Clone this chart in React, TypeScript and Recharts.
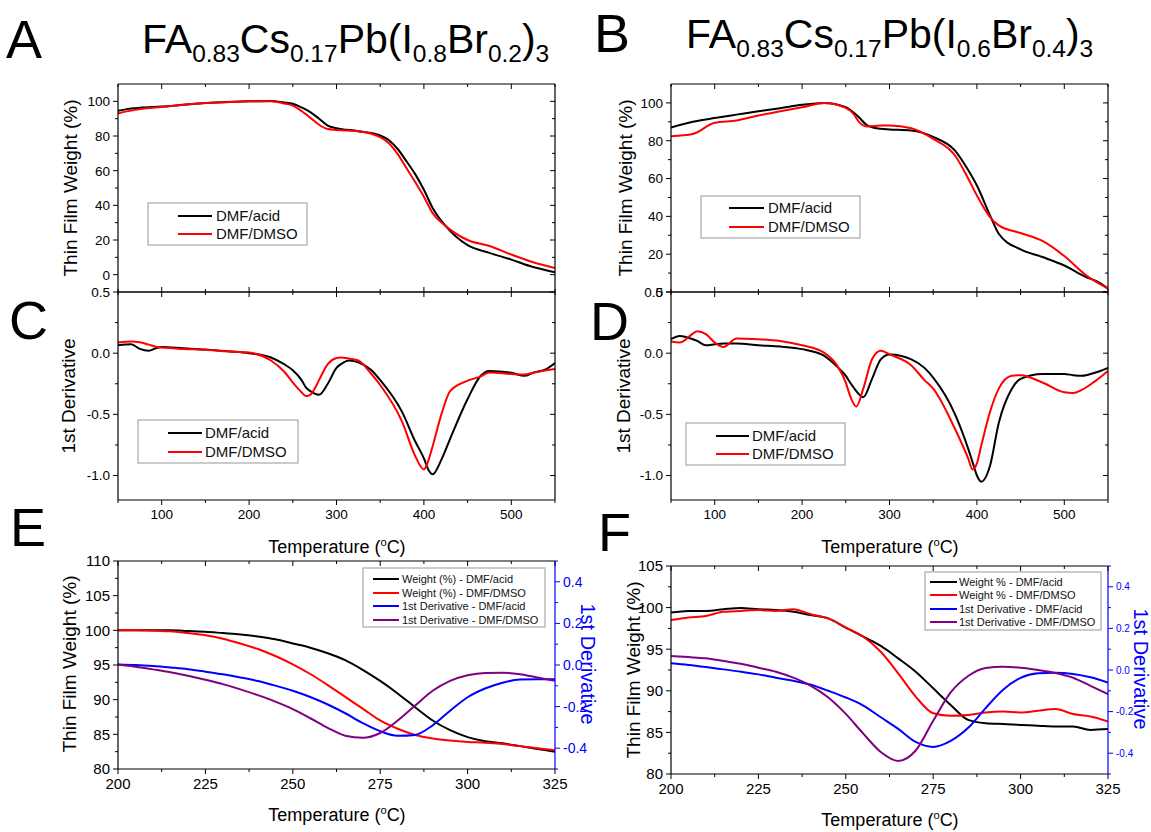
import React from "react";
import { LineChart, Line, XAxis, YAxis } from "recharts";

const FONT = '"Liberation Sans", Arial, Helvetica, sans-serif';

// A – weight, FA0.83Cs0.17Pb(I0.8Br0.2)3
const tempA = [50, 60, 75, 100, 125, 150, 175, 200, 225, 240, 250, 260, 270, 280, 290, 300, 325, 350, 360, 370, 380, 390, 400, 410, 425, 450, 475, 500, 525, 550];
const weightAcidA = [94.5, 95.5, 96.3, 97, 98, 99, 99.6, 100, 100.2, 99.3, 98.6, 96.5, 93.8, 90, 86, 84.5, 82.8, 80.3, 77.5, 72.5, 65.5, 58, 49, 38.5, 28, 17, 12.6, 8.7, 4.4, 1.4];
const weightDmsoA = [93, 94.2, 95.5, 96.8, 98, 99, 99.5, 100, 100, 98.8, 97.5, 94.4, 90.5, 86.5, 84, 83.5, 82.8, 79.3, 75.8, 69.5, 61.5, 53.5, 45, 35.5, 28, 20, 16.5, 11.6, 7.2, 3.9];

// B – weight, FA0.83Cs0.17Pb(I0.6Br0.4)3
const tempB = [50, 75, 100, 125, 150, 175, 200, 225, 250, 260, 265, 275, 290, 300, 325, 350, 375, 390, 400, 415, 425, 450, 475, 500, 525, 540, 550];
const weightAcidB = [87, 90, 92, 93.8, 95.6, 97.2, 99, 100, 97.7, 94.5, 92.4, 88, 86.3, 86, 85.4, 82, 74.8, 64.5, 56.3, 40.5, 30.8, 22.5, 18.5, 14, 7.9, 5, 1.8];
const weightDmsoB = [82.4, 83.6, 89.5, 90.7, 93.3, 95.6, 97.7, 100, 97.4, 93.5, 90, 87.5, 88, 88, 86.6, 81, 72.2, 60, 51, 39.6, 35.2, 31.2, 27, 19, 8.8, 4.4, 1.8];

// C – 1st derivative, (I0.8Br0.2)
const tempC = [50, 65, 75, 85, 95, 100, 125, 150, 175, 200, 225, 240, 250, 260, 265, 270, 275, 280, 290, 300, 305, 315, 325, 340, 350, 375, 390, 400, 405, 410, 420, 430, 450, 465, 475, 500, 515, 525, 540, 550];
const derivAcidC = [0.065, 0.073, 0.035, 0.02, 0.045, 0.05, 0.04, 0.03, 0.015, 0.0, -0.035, -0.09, -0.14, -0.22, -0.28, -0.31, -0.33, -0.34, -0.25, -0.12, -0.09, -0.06, -0.075, -0.14, -0.22, -0.48, -0.72, -0.86, -0.95, -0.99, -0.87, -0.7, -0.375, -0.185, -0.145, -0.16, -0.185, -0.16, -0.13, -0.08];
const derivDmsoC = [0.087, 0.095, 0.09, 0.07, 0.05, 0.046, 0.035, 0.027, 0.015, 0.005, -0.06, -0.15, -0.24, -0.32, -0.35, -0.34, -0.29, -0.22, -0.09, -0.04, -0.035, -0.045, -0.06, -0.17, -0.26, -0.56, -0.84, -0.95, -0.88, -0.76, -0.5, -0.31, -0.225, -0.19, -0.157, -0.17, -0.175, -0.16, -0.14, -0.13];

// D – 1st derivative, (I0.6Br0.4)
const tempD = [50, 60, 75, 80, 90, 100, 110, 125, 150, 175, 200, 225, 240, 250, 255, 262, 270, 280, 290, 300, 325, 340, 350, 375, 390, 395, 400, 405, 415, 425, 440, 450, 475, 500, 510, 520, 535, 550];
const derivAcidD = [0.114, 0.14, 0.114, 0.1, 0.065, 0.073, 0.08, 0.08, 0.065, 0.054, 0.033, -0.02, -0.11, -0.185, -0.24, -0.31, -0.36, -0.21, -0.05, -0.01, -0.05, -0.12, -0.2, -0.5, -0.78, -0.89, -1.0, -1.05, -0.92, -0.57, -0.29, -0.21, -0.17, -0.17, -0.18, -0.185, -0.16, -0.12];
const derivDmsoD = [0.095, 0.087, 0.16, 0.18, 0.155, 0.087, 0.05, 0.12, 0.114, 0.1, 0.065, 0.005, -0.1, -0.24, -0.35, -0.435, -0.29, -0.05, 0.02, -0.01, -0.1, -0.22, -0.29, -0.62, -0.86, -0.95, -0.9, -0.755, -0.48, -0.29, -0.185, -0.18, -0.24, -0.32, -0.325, -0.3, -0.23, -0.145];

// E – zoom 200-325 °C, (I0.8Br0.2)
const tempE = [200, 205, 210, 215, 220, 225, 230, 235, 240, 245, 250, 255, 260, 265, 270, 275, 280, 285, 290, 295, 300, 305, 310, 315, 320, 325];
const weightAcidE = [100, 100, 100, 100, 99.9, 99.8, 99.6, 99.4, 99.1, 98.7, 98.1, 97.5, 96.7, 95.7, 94.3, 92.7, 90.9, 88.9, 87.0, 85.6, 84.6, 84.0, 83.7, 83.3, 82.9, 82.5];
const weightDmsoE = [100, 100, 99.95, 99.85, 99.6, 99.3, 98.8, 98.1, 97.3, 96.3, 95.1, 93.7, 92.1, 90.4, 88.7, 87.0, 85.8, 84.9, 84.4, 84.1, 83.9, 83.8, 83.6, 83.3, 83.0, 82.7];
const derivAcidE = [0.003, 0.0, -0.005, -0.012, -0.02, -0.032, -0.045, -0.06, -0.077, -0.099, -0.124, -0.154, -0.19, -0.232, -0.279, -0.318, -0.34, -0.336, -0.29, -0.22, -0.155, -0.113, -0.085, -0.07, -0.068, -0.068];
const derivDmsoE = [0.003, -0.008, -0.021, -0.035, -0.052, -0.071, -0.092, -0.117, -0.145, -0.176, -0.212, -0.256, -0.302, -0.34, -0.35, -0.327, -0.267, -0.195, -0.124, -0.076, -0.049, -0.038, -0.037, -0.044, -0.06, -0.076];

// F – zoom 200-325 °C, (I0.6Br0.4)
const tempF = [200, 205, 210, 215, 220, 225, 230, 235, 240, 245, 250, 255, 260, 265, 270, 275, 280, 285, 290, 295, 300, 305, 310, 315, 320, 325];
const weightAcidF = [99.4, 99.6, 99.6, 99.8, 99.95, 99.8, 99.7, 99.5, 99.1, 98.7, 97.6, 96.5, 95.4, 93.9, 92.3, 90.3, 88.3, 86.5, 86.1, 86.0, 85.9, 85.8, 85.7, 85.7, 85.3, 85.4];
const weightDmsoF = [98.5, 98.8, 99.0, 99.5, 99.6, 99.7, 99.6, 99.8, 99.2, 98.7, 97.6, 96.5, 94.7, 92.1, 89.3, 87.3, 87.0, 87.1, 87.4, 87.5, 87.4, 87.6, 87.8, 87.2, 86.9, 86.3];
const derivAcidF = [0.032, 0.024, 0.014, 0.003, -0.008, -0.021, -0.037, -0.052, -0.071, -0.1, -0.132, -0.171, -0.227, -0.283, -0.346, -0.37, -0.341, -0.278, -0.183, -0.095, -0.038, -0.016, -0.013, -0.019, -0.035, -0.06];
const derivDmsoF = [0.067, 0.062, 0.056, 0.043, 0.03, 0.011, -0.008, -0.037, -0.076, -0.132, -0.211, -0.306, -0.394, -0.437, -0.387, -0.244, -0.108, -0.029, 0.01, 0.016, 0.011, 0.0, -0.014, -0.037, -0.076, -0.116];

// tick lists
const ticksWide = [50, 100, 150, 200, 250, 300, 350, 400, 450, 500, 550];
const majorWide = [100, 200, 300, 400, 500];
const ticksWeightA = [0, 10, 20, 30, 40, 50, 60, 70, 80, 90, 100];
const ticksWeightB = [0, 10, 20, 30, 40, 50, 60, 70, 80, 90, 100];
const majorWeight = [0, 20, 40, 60, 80, 100];
const ticksDeriv = [-1.0, -0.75, -0.5, -0.25, 0, 0.25, 0.5];
const majorDeriv = [-1.0, -0.5, 0, 0.5];
const ticksZoom = [200, 212.5, 225, 237.5, 250, 262.5, 275, 287.5, 300, 312.5, 325];
const majorZoom = [200, 225, 250, 275, 300, 325];
const ticksWeightE = [80, 82.5, 85, 87.5, 90, 92.5, 95, 97.5, 100, 102.5, 105, 107.5, 110];
const majorWeightE = [80, 85, 90, 95, 100, 105, 110];
const ticksWeightF = [80, 82.5, 85, 87.5, 90, 92.5, 95, 97.5, 100, 102.5, 105];
const majorWeightF = [80, 85, 90, 95, 100, 105];
const ticksDerivZoom = [-0.5, -0.4, -0.3, -0.2, -0.1, 0, 0.1, 0.2, 0.3, 0.4, 0.5];
const majorDerivZoom = [-0.4, -0.2, 0, 0.2, 0.4];

const zip = (t: number[], cols: Record<string, number[]>) =>
  t.map((v, i) => {
    const r: Record<string, number> = { t: v };
    for (const k of Object.keys(cols)) r[k] = cols[k][i];
    return r;
  });

type Ax = {
  domain: [number, number];
  ticks: number[];
  major: number[];
  dec?: number;
  font?: number;
  color?: string;
  labels?: boolean;
  inward?: boolean;
};

function makeTick(ax: Ax) {
  return (p: any) => {
    const { x, y, payload, orientation } = p;
    const v = Number(payload.value);
    const isMajor = ax.major.some((m) => Math.abs(m - v) < 1e-9);
    const len = isMajor ? 5 : 3;
    const s = ax.inward ? -1 : 1;
    const color = ax.color ?? "#000";
    let x2 = x;
    let y2 = y;
    if (orientation === "left") x2 = x - s * len;
    else if (orientation === "right") x2 = x + s * len;
    else if (orientation === "top") y2 = y - s * len;
    else y2 = y + s * len;
    let label = null;
    if (isMajor && ax.labels) {
      const txt = v.toFixed(ax.dec ?? 0);
      const c = { fontSize: ax.font ?? 13, fill: color, fontFamily: FONT };
      if (orientation === "left")
        label = <text x={x - 8} y={y} dy="0.36em" textAnchor="end" {...c}>{txt}</text>;
      else if (orientation === "right")
        label = <text x={x + 8} y={y} dy="0.36em" textAnchor="start" {...c}>{txt}</text>;
      else
        label = <text x={x} y={y + 8} dy="0.78em" textAnchor="middle" {...c}>{txt}</text>;
    }
    return (
      <g>
        <line x1={x} y1={y} x2={x2} y2={y2} stroke={color} strokeWidth={1} />
        {label}
      </g>
    );
  };
}

type Series = { key: string; color: string; axis: "l" | "r"; name: string };

const ML = 60, MR = 60, MT = 12, MB = 36, PW = 437, PH = 208;

function Panel(props: {
  x: number;
  y: number;
  rows: Record<string, number>[];
  lines: Series[];
  bottom: Ax;
  top: Ax;
  left: Ax;
  right: Ax;
}) {
  const { x, y, rows, lines, bottom, top, left, right } = props;
  const axisStyle = (c?: string) => ({ stroke: c ?? "#000", strokeWidth: 1.2 });
  // axes are 1px thick so the plot area starts exactly at the margin + 1
  return (
    <div style={{ position: "absolute", left: x - ML, top: y - MT }}>
      <LineChart width={PW + ML + MR} height={PH + MT + MB} data={rows} margin={{ top: MT - 1, right: MR - 1, bottom: MB - 1, left: ML - 1 }}>
        <XAxis xAxisId="b" dataKey="t" type="number" domain={bottom.domain} ticks={bottom.ticks} interval={0} allowDataOverflow height={1} tickSize={0} tickMargin={0} tickLine={false} axisLine={axisStyle()} tick={makeTick(bottom)} />
        <XAxis xAxisId="t" orientation="top" dataKey="t" type="number" domain={top.domain} ticks={top.ticks} interval={0} allowDataOverflow height={1} tickSize={0} tickMargin={0} tickLine={false} axisLine={axisStyle()} tick={makeTick(top)} />
        <YAxis yAxisId="l" type="number" domain={left.domain} ticks={left.ticks} interval={0} allowDataOverflow width={1} tickSize={0} tickMargin={0} tickLine={false} axisLine={axisStyle()} tick={makeTick(left)} />
        <YAxis yAxisId="r" orientation="right" type="number" domain={right.domain} ticks={right.ticks} interval={0} allowDataOverflow width={1} tickSize={0} tickMargin={0} tickLine={false} axisLine={axisStyle(right.color)} tick={makeTick(right)} />
        {lines.map((l) => (
          <Line key={l.key} xAxisId="b" yAxisId={l.axis} dataKey={l.key} name={l.name} type="monotone" stroke={l.color} strokeWidth={2} dot={false} isAnimationActive={false} />
        ))}
      </LineChart>
    </div>
  );
}

const pairLines: Series[] = [
  { key: "acid", color: "#000000", axis: "l", name: "DMF/acid" },
  { key: "dmso", color: "#ff0000", axis: "l", name: "DMF/DMSO" },
];
const zoomLinesE: Series[] = [
  { key: "wAcid", color: "#000000", axis: "l", name: "Weight (%) - DMF/acid" },
  { key: "wDmso", color: "#ff0000", axis: "l", name: "Weight (%) - DMF/DMSO" },
  { key: "dAcid", color: "#0000ff", axis: "r", name: "1st Derivative - DMF/acid" },
  { key: "dDmso", color: "#800080", axis: "r", name: "1st Derivative - DMF/DMSO" },
];
const zoomLinesF: Series[] = zoomLinesE.map((s) => ({ ...s, name: s.name.replace("Weight (%)", "Weight %") }));

const rowsA = zip(tempA, { acid: weightAcidA, dmso: weightDmsoA });
const rowsB = zip(tempB, { acid: weightAcidB, dmso: weightDmsoB });
const rowsC = zip(tempC, { acid: derivAcidC, dmso: derivDmsoC });
const rowsD = zip(tempD, { acid: derivAcidD, dmso: derivDmsoD });
const rowsE = zip(tempE, { wAcid: weightAcidE, wDmso: weightDmsoE, dAcid: derivAcidE, dDmso: derivDmsoE });
const rowsF = zip(tempF, { wAcid: weightAcidF, wDmso: weightDmsoF, dAcid: derivAcidF, dDmso: derivDmsoF });

const wideX: Ax = { domain: [50, 550], ticks: ticksWide, major: majorWide, labels: true, font: 13.5 };
const wideTop: Ax = { domain: [50, 550], ticks: ticksWide, major: majorWide, inward: true };
const weightAxA: Ax = { domain: [-10, 110], ticks: ticksWeightA, major: majorWeight, labels: true, font: 13.5 };
const weightAxB: Ax = { domain: [0, 110], ticks: ticksWeightB, major: majorWeight, labels: true, font: 13.5 };
const derivAx: Ax = { domain: [-1.2, 0.5], ticks: ticksDeriv, major: majorDeriv, labels: true, dec: 1, font: 13.5 };
const mirror = (a: Ax): Ax => ({ ...a, labels: false, inward: true });
const zoomX: Ax = { domain: [200, 325], ticks: ticksZoom, major: majorZoom, labels: true, font: 15 };
const zoomTop: Ax = { ...zoomX, labels: false, inward: true };

function Formula({ x, y, parts }: { x: number; y: number; parts: [string, number][] }) {
  let prev = 0;
  return (
    <text x={x} y={y} fontSize={41} fill="#000">
      {parts.map(([t, sub], i) => {
        const dy = (sub - prev) * 9;
        prev = sub;
        return (
          <tspan key={i} dy={dy} fontSize={sub ? 24.5 : 41}>
            {t}
          </tspan>
        );
      })}
    </text>
  );
}

function TempLabel({ cx, y, size }: { cx: number; y: number; size: number }) {
  return (
    <text x={cx} y={y} fontSize={size} textAnchor="middle" fill="#000">
      Temperature (<tspan dy={-7} fontSize={size * 0.62}>o</tspan>
      <tspan dy={7}>C)</tspan>
    </text>
  );
}

function VLabel({ cx, cy, text, size, color = "#000", down = false }: { cx: number; cy: number; text: string; size: number; color?: string; down?: boolean }) {
  return (
    <text x={cx} y={cy} fontSize={size} fill={color} textAnchor="middle" dominantBaseline="central" transform={`rotate(${down ? 90 : -90} ${cx} ${cy})`}>
      {text}
    </text>
  );
}

function LegendBox({ box, items, lineX, textX, rowsY, font }: { box: [number, number, number, number]; items: Series[]; lineX: [number, number]; textX: number; rowsY: number[]; font: number }) {
  return (
    <g>
      <rect x={box[0]} y={box[1]} width={box[2]} height={box[3]} fill="#fff" stroke="#a8a8a8" strokeWidth={1.2} />
      {items.map((it, i) => (
        <g key={it.key}>
          <line x1={lineX[0]} x2={lineX[1]} y1={rowsY[i]} y2={rowsY[i]} stroke={it.color} strokeWidth={2} />
          <text x={textX} y={rowsY[i]} dy="0.36em" fontSize={font} fill="#111">
            {it.name}
          </text>
        </g>
      ))}
    </g>
  );
}

const titleA: [string, number][] = [["FA", 0], ["0.83", 1], ["Cs", 0], ["0.17", 1], ["Pb(I", 0], ["0.8", 1], ["Br", 0], ["0.2", 1], [")", 0], ["3", 1]];
const titleB: [string, number][] = [["FA", 0], ["0.83", 1], ["Cs", 0], ["0.17", 1], ["Pb(I", 0], ["0.6", 1], ["Br", 0], ["0.4", 1], [")", 0], ["3", 1]];

export default function App() {
  return (
    <div style={{ position: "absolute", left: 0, top: 0, width: 1151, height: 832, background: "#fff", fontFamily: FONT, overflow: "hidden" }}>
      <Panel x={118} y={84} rows={rowsA} lines={pairLines} bottom={wideTop} top={wideTop} left={weightAxA} right={mirror(weightAxA)} />
      <Panel x={671} y={84} rows={rowsB} lines={pairLines} bottom={wideTop} top={wideTop} left={weightAxB} right={mirror(weightAxB)} />
      <Panel x={118} y={292} rows={rowsC} lines={pairLines} bottom={wideX} top={wideTop} left={derivAx} right={mirror(derivAx)} />
      <Panel x={671} y={292} rows={rowsD} lines={pairLines} bottom={wideX} top={wideTop} left={derivAx} right={mirror(derivAx)} />
      <Panel x={118} y={561} rows={rowsE} lines={zoomLinesE} bottom={zoomX} top={zoomTop}
        left={{ domain: [80, 110], ticks: ticksWeightE, major: majorWeightE, labels: true, font: 15 }}
        right={{ domain: [-0.5, 0.5], ticks: ticksDerivZoom, major: majorDerivZoom, labels: true, dec: 1, font: 14, color: "#0000ff" }} />
      <Panel x={671} y={566} rows={rowsF} lines={zoomLinesF} bottom={zoomX} top={zoomTop}
        left={{ domain: [80, 105], ticks: ticksWeightF, major: majorWeightF, labels: true, font: 15 }}
        right={{ domain: [-0.5, 0.5], ticks: ticksDerivZoom, major: majorDerivZoom, labels: true, dec: 1, font: 10, color: "#0000ff" }} />

      <svg width={1151} height={832} style={{ position: "absolute", left: 0, top: 0, pointerEvents: "none", fontFamily: FONT }}>
        <text x={6} y={58} fontSize={54} fill="#000">A</text>
        <text x={594} y={52} fontSize={54} fill="#000">B</text>
        <text x={9} y={339} fontSize={54} fill="#000">C</text>
        <text x={590} y={340} fontSize={54} fill="#000">D</text>
        <text x={10} y={546} fontSize={54} fill="#000">E</text>
        <text x={598} y={551} fontSize={54} fill="#000">F</text>

        <Formula x={142} y={53} parts={titleA} />
        <Formula x={686} y={48} parts={titleB} />

        <VLabel cx={70} cy={188} text="Thin Film Weight (%)" size={19} />
        <VLabel cx={625} cy={188} text="Thin Film Weight (%)" size={19} />
        <VLabel cx={68} cy={396} text="1st Derivative" size={19} />
        <VLabel cx={623} cy={396} text="1st Derivative" size={19} />
        <VLabel cx={69} cy={664} text="Thin Film Weight (%)" size={19} />
        <VLabel cx={633} cy={670} text="Thin Film Weight (%)" size={19} />
        <VLabel cx={588} cy={664} text="1st Derivative" size={20} color="#0000ff" down />
        <VLabel cx={1141} cy={669} text="1st Derivative" size={20} color="#0000ff" down />

        <TempLabel cx={337} y={553} size={18} />
        <TempLabel cx={890} y={553} size={18} />
        <TempLabel cx={337} y={821} size={18} />
        <TempLabel cx={890} y={826} size={18} />

        <LegendBox box={[148, 203, 159, 42]} items={pairLines} lineX={[178, 212]} textX={216} rowsY={[216, 234]} font={15} />
        <LegendBox box={[701, 196, 159, 42]} items={pairLines} lineX={[729, 764]} textX={768} rowsY={[208, 227]} font={15} />
        <LegendBox box={[138, 420, 160, 43]} items={pairLines} lineX={[168, 202]} textX={205} rowsY={[433, 452]} font={15} />
        <LegendBox box={[686, 423, 159, 42]} items={pairLines} lineX={[716, 749]} textX={752} rowsY={[436, 454]} font={15} />
        <LegendBox box={[363, 568, 182, 59]} items={zoomLinesE} lineX={[373, 399]} textX={402} rowsY={[579, 593, 606, 620]} font={11} />
        <LegendBox box={[925, 572, 176, 58]} items={zoomLinesF} lineX={[930, 957]} textX={959} rowsY={[582, 595, 609, 622]} font={11} />
      </svg>
    </div>
  );
}
